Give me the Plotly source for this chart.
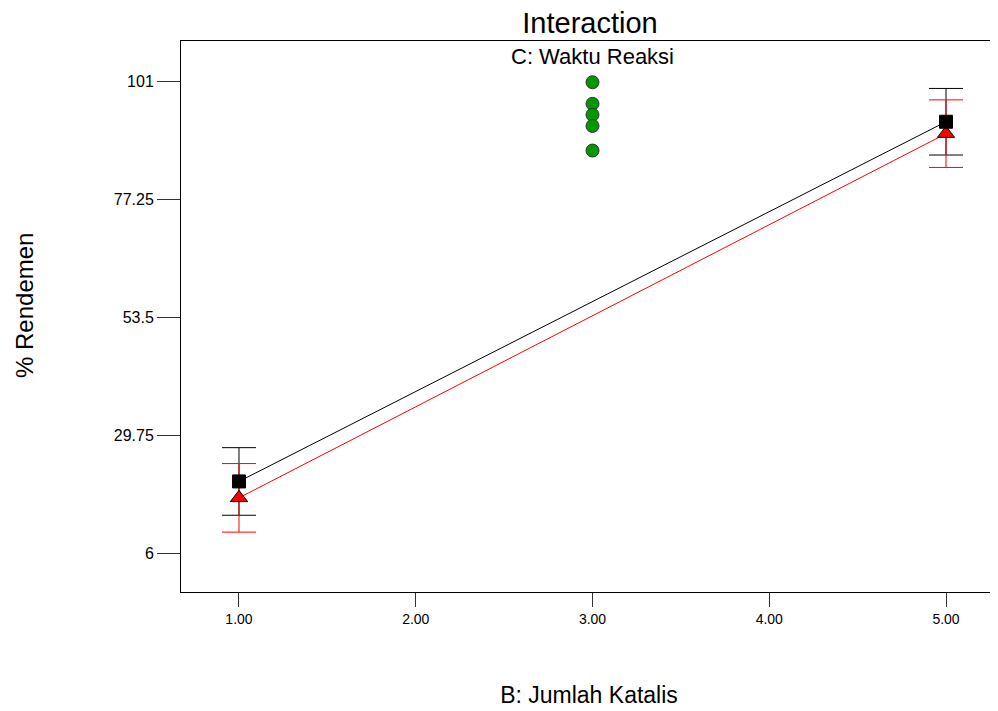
import plotly.graph_objects as go

x_levels = [1.0, 5.0]
black_mean = [20.4, 92.8]
black_err = [6.8, 6.7]
red_mean = [17.1, 90.4]
red_err = [6.9, 6.8]
green_x = [3.0, 3.0, 3.0, 3.0, 3.0]
green_y = [100.75, 96.4, 94.2, 91.95, 87.0]
y_ticks = [6, 29.75, 53.5, 77.25, 101]
y_tick_labels = ["6", "29.75", "53.5", "77.25", "101"]
x_ticks = [1, 2, 3, 4, 5]
x_tick_labels = ["1.00", "2.00", "3.00", "4.00", "5.00"]

fig = go.Figure()

fig.add_trace(go.Scatter(
    x=x_levels, y=black_mean, mode="lines",
    line=dict(color="black", width=1),
    error_y=dict(type="data", array=black_err, color="black", thickness=1, width=17),
    showlegend=False))

fig.add_trace(go.Scatter(
    x=x_levels, y=red_mean, mode="lines+markers",
    line=dict(color="red", width=1),
    marker=dict(symbol="triangle-up", size=15, color="red", line=dict(color="black", width=1)),
    error_y=dict(type="data", array=red_err, color="red", thickness=1, width=17),
    showlegend=False))

fig.add_trace(go.Scatter(
    x=x_levels, y=black_mean, mode="markers",
    marker=dict(symbol="square", size=13, color="black", line=dict(color="black", width=1)),
    showlegend=False))

fig.add_trace(go.Scatter(
    x=green_x, y=green_y, mode="markers",
    marker=dict(symbol="circle", size=13, color="#009900", line=dict(color="#333333", width=1)),
    showlegend=False))

fig.update_layout(
    width=990, height=703,
    margin=dict(l=173, r=1, t=33, b=119),
    paper_bgcolor="white", plot_bgcolor="white",
    font=dict(family="Arial, Liberation Sans, sans-serif", color="black"),
    title=dict(text="Interaction", x=0.5879, xanchor="center", y=0.9787, yanchor="middle",
               font=dict(size=29, color="black")),
    annotations=[
        dict(text="C: Waktu Reaksi", xref="x", yref="paper", x=3.0, y=1.0,
             yanchor="top", xanchor="center", showarrow=False, yshift=-1,
             font=dict(size=22, color="black")),
        dict(text="% Rendemen", xref="paper", yref="paper", x=-0.1912, y=0.5209,
             xanchor="center", yanchor="middle", textangle=-90, showarrow=False,
             font=dict(size=24, color="black")),
    ],
    xaxis=dict(range=[0.6719, 5.2885], tickvals=x_ticks, ticktext=x_tick_labels,
               showline=True, linecolor="black", linewidth=1, mirror=True,
               ticks="outside", ticklen=14, tickcolor="#333333", tickfont=dict(size=14),
               showgrid=False, zeroline=False,
               title=dict(text="B: Jumlah Katalis", font=dict(size=23), standoff=61)),
    yaxis=dict(range=[-1.85, 109.05], tickvals=y_ticks, ticktext=y_tick_labels,
               showline=True, linecolor="black", linewidth=1, mirror=True,
               ticks="outside", ticklen=23, tickcolor="#333333", tickfont=dict(size=16),
               showgrid=False, zeroline=False),
)

fig.write_html("out.html")
